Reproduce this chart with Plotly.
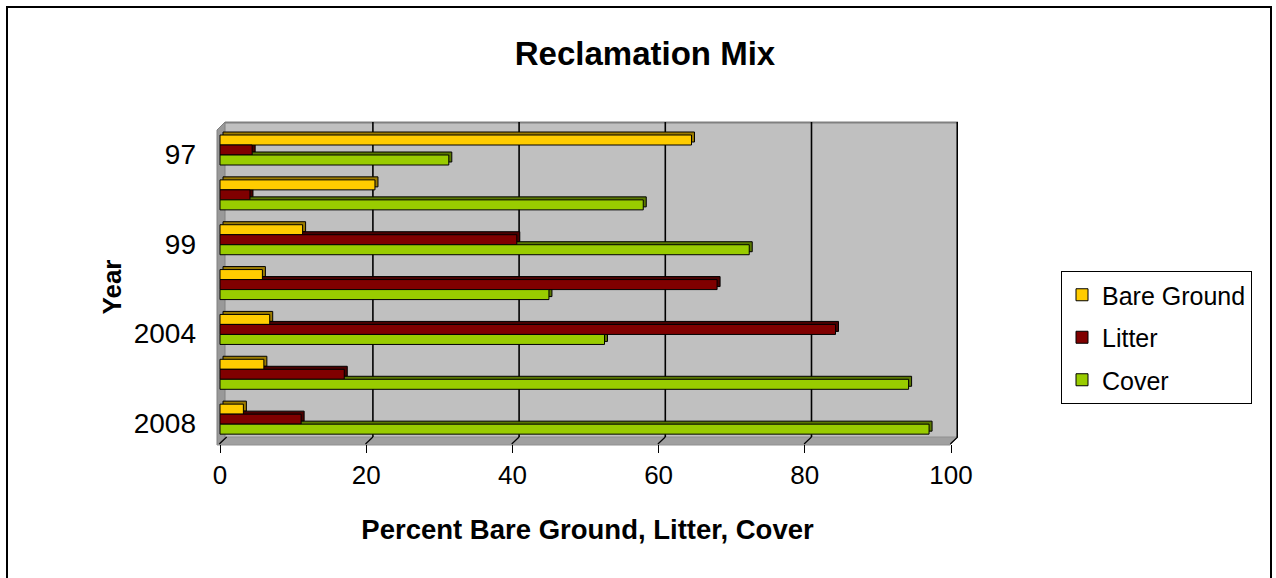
import plotly.graph_objects as go

# ---------------- data ----------------
years = ["97", "98", "99", "2001", "2004", "2006", "2008"]
shown_years = ["97", "99", "2004", "2008"]
bare_ground = [64.5, 21.2, 11.3, 5.8, 6.8, 6.0, 3.2]
litter = [4.4, 4.1, 40.6, 68.0, 84.2, 17.0, 11.1]
cover = [31.3, 57.9, 72.4, 45.0, 52.6, 94.2, 97.0]
series_names = ["Bare Ground", "Litter", "Cover"]
x_ticks = [0, 20, 40, 60, 80, 100]

# ---------------- style ----------------
W, H = 1276, 578
L, R, T, B = 217, 958, 122, 445   # plot area in pixels
FONT = "Liberation Sans, Arial, sans-serif"
face_cols = ["#FFCC00", "#800000", "#99CC00"]
depth_cols = ["#9c7c00", "#4a0000", "#5a7800"]

def fx(p):
    return (p - L) / (R - L)

def fy(p):
    return (B - p) / (B - T)

pos = list(range(len(years)))
values = [bare_ground, litter, cover]

bar_w = 0.223
offsets = [-1.5 * bar_w, -0.5 * bar_w, 0.5 * bar_w]
dep_y = 0.067   # depth (units on y)
dep_x = 0.41    # depth (units on x)

fig = go.Figure()

# 3D depth faces (drawn first)
for i in range(3):
    fig.add_trace(go.Bar(
        y=pos, x=values[i], base=dep_x, orientation="h",
        width=bar_w, offset=offsets[i] - dep_y,
        marker=dict(color=depth_cols[i], line=dict(color="black", width=1)),
        showlegend=False, hoverinfo="skip",
    ))
# front faces
for i in range(3):
    fig.add_trace(go.Bar(
        y=pos, x=values[i], orientation="h", name=series_names[i],
        width=bar_w, offset=offsets[i], legendgroup=series_names[i],
        marker=dict(color=face_cols[i], line=dict(color="black", width=1)),
    ))

px_per_unit = 7.31
bar_x0 = 220.0
back_x0 = 226.7
x_start = -(bar_x0 - L) / px_per_unit
x_end = x_start + (R - L) / px_per_unit
g_start = -(back_x0 - L) / px_per_unit
g_end = g_start + (R - L) / px_per_unit
front_shift = (back_x0 - bar_x0 + 0.7) / px_per_unit

shapes = []
# outer frame
shapes.append(dict(type="rect", xref="paper", yref="paper",
                   x0=fx(7), x1=fx(1271), y0=fy(7), y1=fy(620),
                   line=dict(color="black", width=2), fillcolor="rgba(0,0,0,0)", layer="below"))
# back wall
shapes.append(dict(type="rect", xref="paper", yref="paper",
                   x0=fx(225), x1=fx(958), y0=fy(122), y1=fy(437),
                   line=dict(width=0), fillcolor="#C0C0C0", layer="below"))
shapes.append(dict(type="line", xref="paper", yref="paper",
                   x0=fx(225), x1=fx(958), y0=fy(122.5), y1=fy(122.5),
                   line=dict(color="#808080", width=2), layer="below"))
# side wall
shapes.append(dict(type="path", xref="paper", yref="paper",
                   path=f"M {fx(217)},{fy(130)} L {fx(225)},{fy(122)} L {fx(225)},{fy(437)} L {fx(217)},{fy(445)} Z",
                   fillcolor="#999999", line=dict(color="#808080", width=1), layer="below"))
# floor
shapes.append(dict(type="path", xref="paper", yref="paper",
                   path=f"M {fx(217)},{fy(445)} L {fx(225)},{fy(437)} L {fx(958)},{fy(437)} L {fx(950)},{fy(445)} Z",
                   fillcolor="#A0A0A0", line=dict(color="#909090", width=1), layer="below"))
# back-wall gridlines and floor slants
for v in x_ticks:
    if v > 0:
        shapes.append(dict(type="line", xref="x2", yref="paper",
                           x0=v, x1=v, y0=fy(122), y1=fy(437),
                           line=dict(color="black", width=1.6 if v < 100 else 2.5), layer="below"))
    shapes.append(dict(type="line", xref="x2", yref="paper",
                       x0=v, x1=v - front_shift, y0=fy(437), y1=fy(444),
                       line=dict(color="black", width=1.2), layer="below"))

fig.update_layout(
    width=W, height=H,
    margin=dict(l=L, r=W - R, t=T, b=H - B, pad=0),
    paper_bgcolor="white", plot_bgcolor="rgba(0,0,0,0)",
    barmode="overlay",
    font=dict(family=FONT, color="black", size=24),
    title=dict(text="<b>Reclamation Mix</b>", x=645 / W, xanchor="center",
               xref="container", yref="container", y=1 - 53 / H, yanchor="middle",
               font=dict(size=33, family=FONT, color="black")),
    xaxis=dict(range=[x_start, x_end], domain=[0, 1], tickvals=x_ticks,
               ticks="outside", ticklen=8, tickcolor="black", tickwidth=1,
               showgrid=False, zeroline=False, showline=False,
               tickfont=dict(size=26), anchor="y",
               title=dict(text="<b>Percent Bare Ground, Litter, Cover</b>",
                          font=dict(size=27.5), standoff=30)),
    xaxis2=dict(range=[g_start, g_end], overlaying="x", visible=False,
                showgrid=False, zeroline=False),
    yaxis=dict(range=[len(years) - 0.5 + 0.054, -0.5 + 0.054],
               domain=[fy(444), fy(130)],
               tickmode="array", tickvals=pos[::2], ticktext=shown_years,
               ticks="", showgrid=False, zeroline=False, showline=False,
               tickfont=dict(size=28), ticklabelstandoff=20, ticklabelshift=-4,
               title=dict(text="<b>Year</b>", font=dict(size=26), standoff=4)),
    yaxis2=dict(range=[len(years) - 0.5, -0.5], overlaying="y", side="left",
                tickmode="array", tickvals=[p - 0.5 for p in pos] + [len(years) - 0.5],
                ticks="outside", ticklen=6, tickcolor="black", showticklabels=False,
                showline=True, linecolor="black", linewidth=1.5,
                showgrid=False, zeroline=False, anchor="x"),
    legend=dict(x=fx(1061), y=fy(271), xanchor="left", yanchor="top",
                bordercolor="black", borderwidth=1, bgcolor="white",
                font=dict(size=25, family=FONT), tracegroupgap=7,
                traceorder="grouped"),
    shapes=shapes,
)

fig.write_html("out.html")
